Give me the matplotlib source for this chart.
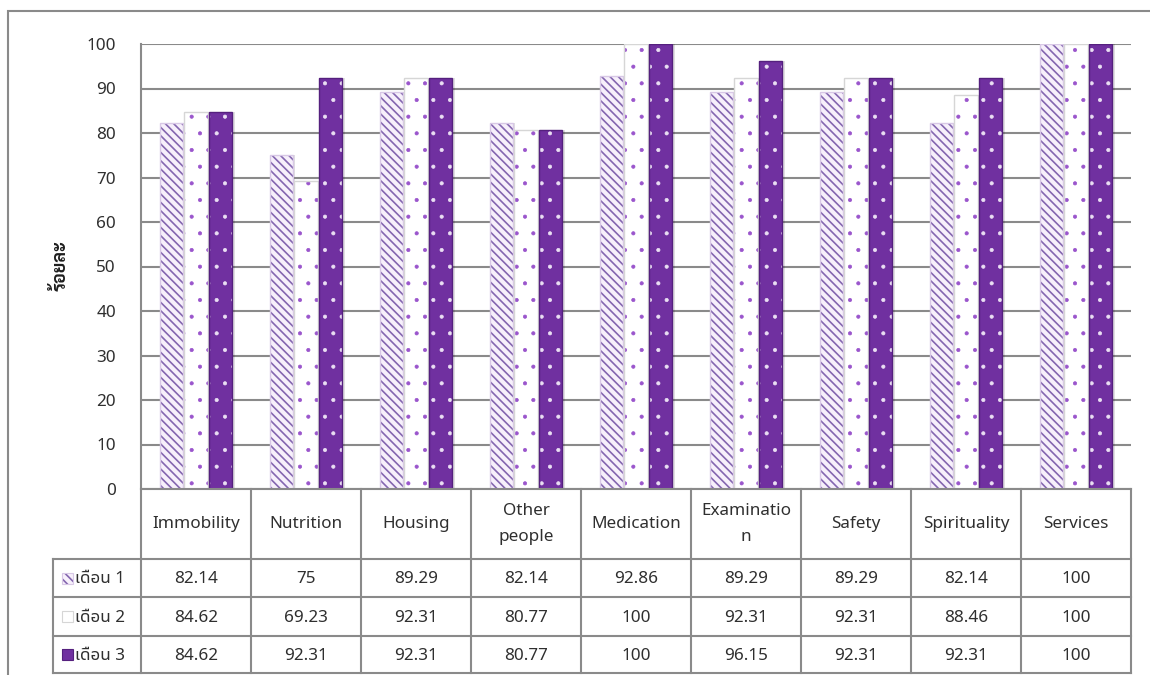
import matplotlib
matplotlib.use("Agg")
import matplotlib.pyplot as plt
import numpy as np
from matplotlib.patches import Rectangle

# ---- data ----
categories = ["Immobility", "Nutrition", "Housing", "Other\npeople", "Medication",
              "Examinatio\nn", "Safety", "Spirituality", "Services"]
series_names = ["เดือน 1", "เดือน 2", "เดือน 3"]
month1 = [82.14, 75, 89.29, 82.14, 92.86, 89.29, 89.29, 82.14, 100]
month2 = [84.62, 69.23, 92.31, 80.77, 100, 92.31, 92.31, 88.46, 100]
month3 = [84.62, 92.31, 92.31, 80.77, 100, 96.15, 92.31, 92.31, 100]
yticks = list(range(0, 101, 10))
ylabel = "ร้อยละ"

FONT = ['Noto Sans Thai UI', 'Noto Sans Thai', 'DejaVu Sans']
plt.rcParams['font.family'] = FONT
TXT = '#2f2f2f'
GRID = '#8a8a8a'
FS = 12.3

W, H = 1150, 675
fig = plt.figure(figsize=(W / 100, H / 100), dpi=100)

def fx(px):
    return px / W

def fy(py):
    return 1 - py / H

# outer frame
fig.add_artist(Rectangle((fx(8), -0.05), 1.2, fy(11) + 0.05, transform=fig.transFigure,
                         fill=False, edgecolor=GRID, lw=1.5))

L, R, T, B = 141, 1131, 44, 489
ax = fig.add_axes([fx(L), fy(B), fx(R) - fx(L), fy(T) - fy(B)])
ax.set_xlim(-0.5, len(categories) - 0.5)
ax.set_ylim(0, 100)
ax.set_yticks(yticks)
ax.set_yticklabels([str(t) for t in yticks], fontsize=FS, color=TXT)
ax.tick_params(axis='y', length=0, pad=18)
ax.set_xticks([])
ax.grid(axis='y', color=GRID, lw=1.5, zorder=0)
ax.set_axisbelow(True)
for s in ['top', 'right', 'bottom']:
    ax.spines[s].set_visible(False)
ax.spines['left'].set_color(GRID)
ax.spines['left'].set_linewidth(1.5)

x = np.arange(len(categories))
bw = 0.215
offs = [-0.223, 0.0, 0.223]
styles = [
    dict(face='#f7f0fb', hatch='\\\\\\\\', hcol='#8466b0', edge='#d8c8e6', hlw=1.2),
    dict(face='#ffffff', hatch='.', hcol='#9a55cc', edge='#d6d6d6', hlw=0.5),
    dict(face='#7030a0', hatch='.', hcol='#eadff3', edge='#55207e', hlw=0.5),
]
series = [month1, month2, month3]

def styled_bar(axis, xs, hs, width, st, z=3, bottom=0):
    # soft shadow to the right
    axis.bar(xs + 0.02, hs, width, bottom=bottom, color='#000000', alpha=0.12, lw=0, zorder=z - 1)
    plt.rcParams['hatch.linewidth'] = st['hlw']
    bars = axis.bar(xs, hs, width, bottom=bottom, color=st['face'], edgecolor=st['hcol'],
                    hatch=st['hatch'], lw=0, zorder=z)
    for b in bars:
        try:
            b.set_hatch_linewidth(st['hlw'])
        except Exception:
            pass
    axis.bar(xs, hs, width, bottom=bottom, facecolor='none', edgecolor=st['edge'], lw=1.0, zorder=z + 1)
    return bars

for vals, off, st in zip(series, offs, styles):
    styled_bar(ax, x + off, np.array(vals, dtype=float), bw, st)

fig.text(fx(61), fy(266), ylabel, rotation=90, ha='center', va='center',
         fontsize=13, fontweight='bold', color='#1e1e1e',
         family=['Sarabun', 'Noto Sans Thai UI', 'DejaVu Sans'])

# ---- data table ----
LEG = 0.8  # width of legend column in category units
TL, TT, TB = 53, 489, 673
tax = fig.add_axes([fx(TL), fy(TB), fx(R) - fx(TL), fy(TT) - fy(TB)])
tax.set_xlim(-0.5 - LEG, len(categories) - 0.5)
tax.set_ylim(TB - TT, 0)
tax.axis('off')
rows_y = [0, 70, 108, 147, 184]
n = len(categories)
kw = dict(color=GRID, lw=1.5, solid_capstyle='projecting', clip_on=False)
tax.plot([-0.5, n - 0.5], [0, 0], **kw)
for yy in rows_y[1:]:
    tax.plot([-0.5 - LEG, n - 0.5], [yy, yy], **kw)
for i in range(n + 1):
    tax.plot([i - 0.5, i - 0.5], [0, rows_y[-1]], **kw)
tax.plot([-0.5 - LEG, -0.5 - LEG], [rows_y[1], rows_y[-1]], **kw)

for i, c in enumerate(categories):
    tax.text(i, rows_y[1] / 2, c, ha='center', va='center', fontsize=FS, color=TXT,
             linespacing=1.8)
for r, (vals, name, st) in enumerate(zip(series, series_names, styles)):
    yc = (rows_y[r + 1] + rows_y[r + 2]) / 2
    for i, v in enumerate(vals):
        tax.text(i, yc + 1, f"{v:g}", ha='center', va='center', fontsize=FS, color=TXT)
    # legend key
    plt.rcParams['hatch.linewidth'] = st['hlw']
    kx = -0.5 - LEG + 0.08
    tax.add_patch(Rectangle((kx, yc - 5.5), 0.1, 11, facecolor=st['face'],
                            edgecolor=st['hcol'], hatch=st['hatch'], lw=0, zorder=3))
    tax.add_patch(Rectangle((kx, yc - 5.5), 0.1, 11, facecolor='none',
                            edgecolor=st['edge'], lw=0.8, zorder=4))
    tax.text(kx + 0.12, yc + 1, name, ha='left', va='center', fontsize=FS, color=TXT)

fig.savefig("out.png", dpi=100)
